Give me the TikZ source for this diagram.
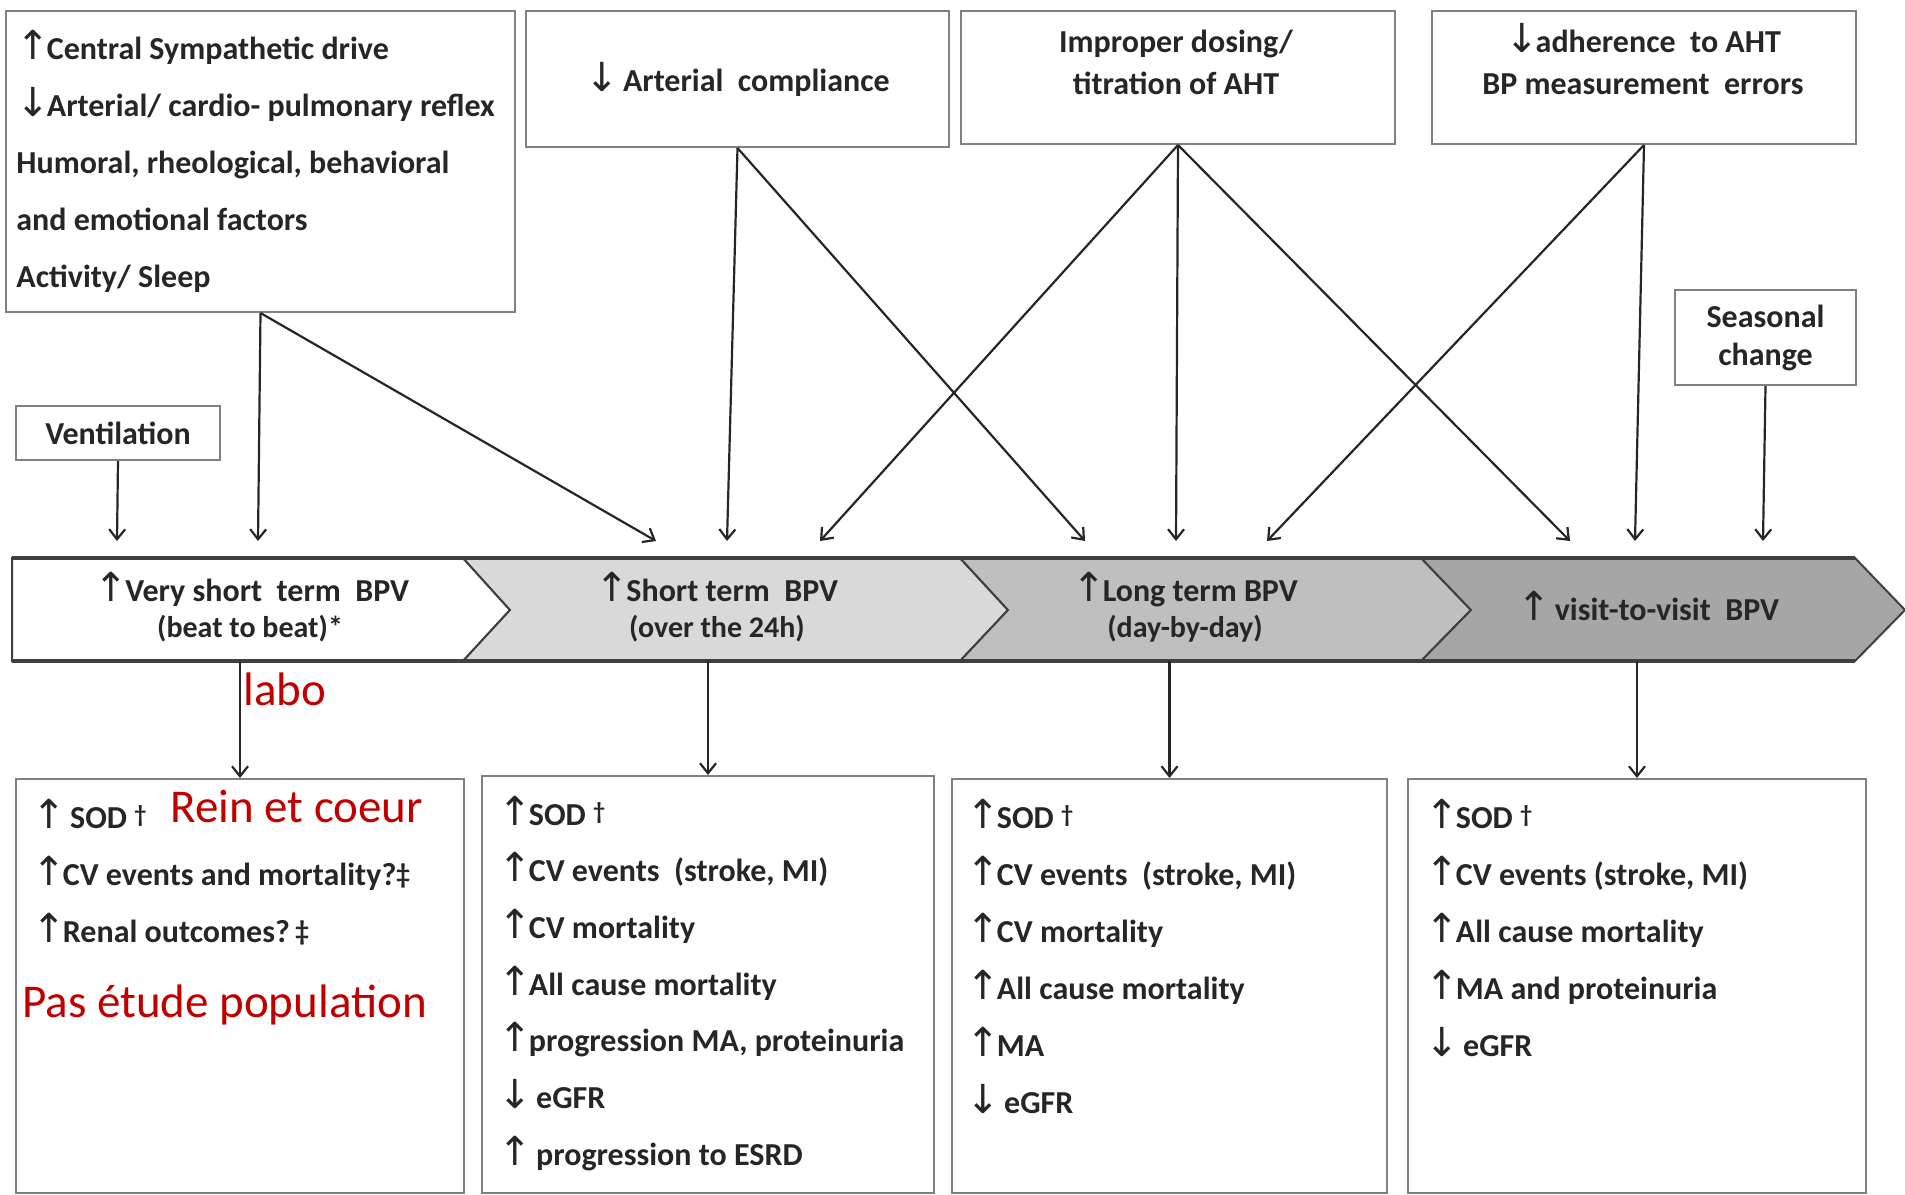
\documentclass[tikz,border=0pt]{standalone}
\usepackage{fontspec}
\setmainfont{Carlito}
\newfontfamily\arrfont{DejaVu Sans}
\usetikzlibrary{arrows.meta}
\definecolor{bandA}{HTML}{D9D9D9}
\definecolor{bandB}{HTML}{BFBFBF}
\definecolor{bandC}{HTML}{A6A6A6}
\definecolor{noteRed}{HTML}{C00000}
\newcommand\arrUp{{\arrfont\mdseries\fontsize{20}{20}\selectfont ↑\kern-1.5pt}}
\newcommand\arrDown{{\arrfont\mdseries\fontsize{20}{20}\selectfont ↓\kern-1.5pt}}
\newcommand\dg{\raisebox{0.35ex}{\fontsize{12}{12}\selectfont\textdagger}}
\newcommand\ddg{\raisebox{0.1ex}{\fontsize{14}{14}\selectfont\textdaggerdbl}}
\tikzset{
  box/.style={draw=black!50, line width=1pt, inner sep=0pt, anchor=north west,
    align=center, text=black!85, font=\bfseries\fontsize{16}{19}\selectfont},
  item/.style={anchor=base west, inner sep=0pt, text=black!85, font=\bfseries\fontsize{16}{19}\selectfont},
  lbl/.style={anchor=base, inner sep=0pt, text=black!85, font=\bfseries\fontsize{16}{19}\selectfont},
  arr/.style={-{Straight Barb[length=5pt,width=8pt]}, line width=1.1pt, black!85},
  chev/.style={draw=black!75, line width=1pt},
  note/.style={anchor=base west, inner sep=0pt, text=noteRed, font=\fontsize{23.5}{28}\selectfont}
}

\begin{document}
\begin{tikzpicture}[x=0.5pt,y=-0.5pt]
\useasboundingbox (0,0) rectangle (1905,1194);

% factors
\node[box, minimum width=254.5pt, minimum height=150.5pt] (fac) at (5,10) {};
\foreach \t [count=\i] in {{\arrUp Central Sympathetic drive},
    {\arrDown Arterial/ cardio- pulmonary reflex},
    {Humoral, rheological, behavioral},
    {and emotional factors},
    {Activity/ Sleep}}
  \node[item] (fac-\i) at ({16},{59+57*(\i-1)}) {\t};

\node[box, minimum width=211.5pt, minimum height=68pt] (comp) at (525,10) {\arrDown\ Arterial\ \ compliance};

\node[box, minimum width=217pt, minimum height=66.5pt] (dose) at (960,10) {};
\node[lbl] (dose-a) at (1176,52) {Improper dosing/};
\node[lbl] (dose-b) at (1176,94) {titration of AHT};

\node[box, minimum width=212pt, minimum height=66.5pt] (adh) at (1431,10) {};
\node[lbl] (adh-a) at (1643,52) {\arrDown adherence\ \ to AHT};
\node[lbl] (adh-b) at (1643,94) {BP measurement\ \ errors};

\node[box, minimum width=90.5pt, minimum height=47.5pt] (seas) at (1674,289) {Seasonal\\change};
\node[box, minimum width=102pt, minimum height=27pt] (vent) at (15,405) {Ventilation};

% BPV band
\draw[chev, fill=white] (12,558) -- (463,558) -- (510,610) -- (463,661) -- (12,661) -- cycle;
\draw[chev, fill=bandA] (463,558) -- (960,558) -- (1008,610) -- (960,661) -- (463,661) -- (510,610) -- cycle;
\draw[chev, fill=bandB] (960,558) -- (1421,558) -- (1471,610) -- (1421,661) -- (960,661) -- (1008,610) -- cycle;
\draw[chev, fill=bandC] (1421,558) -- (1855,558) -- (1905,610) -- (1855,661) -- (1421,661) -- (1471,610) -- cycle;
\draw[line width=2pt, black!75] (12,558) -- (1855,558) (12,661) -- (1855,661);

\node[lbl] (vs) at (252,601) {\arrUp Very short\ \ term\ \ BPV};
\node[lbl, font=\bfseries\fontsize{15}{18}\selectfont] (vs-sub) at (250,637) {(beat to beat)*};
\node[lbl] (st) at (717,601) {\arrUp Short term\ \ BPV};
\node[lbl, font=\bfseries\fontsize{15}{18}\selectfont] (st-sub) at (717,637) {(over the 24h)};
\node[lbl] (lt) at (1185,601) {\arrUp Long term BPV};
\node[lbl, font=\bfseries\fontsize{15}{18}\selectfont] (lt-sub) at (1185,637) {(day-by-day)};
\node[lbl] (vv) at (1648,620) {\arrUp\ visit-to-visit\ \ BPV};

\coordinate (vs-a) at (117,541);
\coordinate (vs-b) at (258,541);
\coordinate (st-a) at (656,541);
\coordinate (st-b) at (727,541);
\coordinate (st-c) at (820,541);
\coordinate (lt-a) at (1085,541);
\coordinate (lt-b) at (1176,541);
\coordinate (lt-c) at (1267,541);
\coordinate (vv-a) at (1570,541);
\coordinate (vv-b) at (1635,541);
\coordinate (vv-c) at (1763,541);
\coordinate (bandbot) at (0,661);

\draw[arr] (vent.south) -- (vs-a);
\draw[arr] (fac.south) -- (vs-b);
\draw[arr] (fac.south) -- (st-a);
\draw[arr] (comp.south) -- (st-b);
\draw[arr] (comp.south) -- (lt-a);
\draw[arr] (dose.south) -- (st-c);
\draw[arr] (dose.south) -- (lt-b);
\draw[arr] (dose.south) -- (vv-a);
\draw[arr] (adh.south) -- (lt-c);
\draw[arr] (adh.south) -- (vv-b);
\draw[arr] (seas.south) -- (vv-c);

% outcomes
\node[box, minimum width=224pt, minimum height=207pt] (out1) at (15,778) {};
\node[box, minimum width=226pt, minimum height=208.5pt] (out2) at (481,775) {};
\node[box, minimum width=217.5pt, minimum height=207pt] (out3) at (951,778) {};
\node[box, minimum width=229pt, minimum height=207pt] (out4) at (1407,778) {};

\foreach \o in {out1,out2,out3,out4}
  \draw[arr] (\o.north |- bandbot) -- (\o.north);

\foreach \t [count=\i] in {{\arrUp\ SOD \dg},
    {\arrUp CV events and mortality?\ddg},
    {\arrUp Renal outcomes?\,\ddg}}
  \node[item] (out1-\i) at ({32},{828+57*(\i-1)}) {\t};

\foreach \t [count=\i] in {{\arrUp SOD \dg},
    {\arrUp CV events\ \ (stroke, MI)},
    {\arrUp CV mortality},
    {\arrUp All cause mortality},
    {\arrUp progression MA, proteinuria},
    {\arrDown\ eGFR},
    {\arrUp\ progression to ESRD}}
  \node[item] (out2-\i) at ({498},{825+56.7*(\i-1)}) {\t};

\foreach \t [count=\i] in {{\arrUp SOD \dg},
    {\arrUp CV events\ \ (stroke, MI)},
    {\arrUp CV mortality},
    {\arrUp All cause mortality},
    {\arrUp MA},
    {\arrDown\ eGFR}}
  \node[item] (out3-\i) at ({966},{828+57*(\i-1)}) {\t};

\foreach \t [count=\i] in {{\arrUp SOD \dg},
    {\arrUp CV events (stroke, MI)},
    {\arrUp All cause mortality},
    {\arrUp MA and proteinuria},
    {\arrDown\ eGFR}}
  \node[item] (out4-\i) at ({1425},{828+57*(\i-1)}) {\t};

% notes
\node[note] (labo) at (243,705) {labo};
\node[note] (rein) at (170,822) {Rein et coeur};
\node[note] (pas) at (22,1017) {Pas étude population};
\end{tikzpicture}
\end{document}
